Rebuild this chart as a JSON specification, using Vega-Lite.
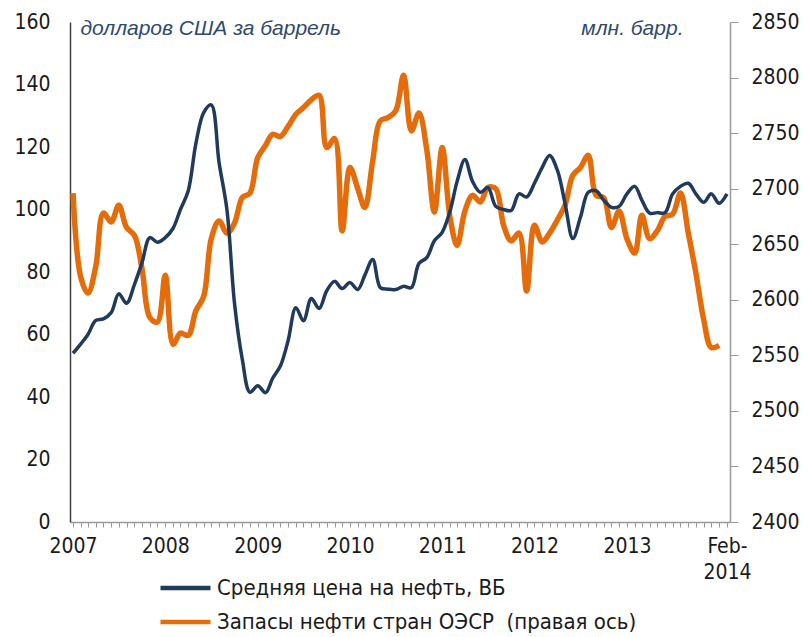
{
  "$schema": "https://vega.github.io/schema/vega-lite/v6.json",
  "width": 660,
  "height": 500,
  "autosize": {"type": "none"},
  "padding": {"left": 70, "top": 22, "right": 79, "bottom": 115},
  "config": {
    "view": {"stroke": null},
    "font": "Liberation Sans Narrow, DejaVu Sans Condensed, Arial",
    "axis": {"grid": false, "labelFontSize": 21, "labelColor": "#1a1a1a", "labelFont": "Liberation Sans Narrow, DejaVu Sans Condensed, Arial", "labelOverlap": false, "labelFlush": false, "labelBound": false}
  },
  "datasets": {
    "price": [
      {"date": "2007-01-01", "series": "Средняя цена на нефть, ВБ", "value": 54},
      {"date": "2007-02-01", "series": "Средняя цена на нефть, ВБ", "value": 57},
      {"date": "2007-03-01", "series": "Средняя цена на нефть, ВБ", "value": 60},
      {"date": "2007-04-01", "series": "Средняя цена на нефть, ВБ", "value": 64.5},
      {"date": "2007-05-01", "series": "Средняя цена на нефть, ВБ", "value": 65},
      {"date": "2007-06-01", "series": "Средняя цена на нефть, ВБ", "value": 67},
      {"date": "2007-07-01", "series": "Средняя цена на нефть, ВБ", "value": 73},
      {"date": "2007-08-01", "series": "Средняя цена на нефть, ВБ", "value": 70},
      {"date": "2007-09-01", "series": "Средняя цена на нефть, ВБ", "value": 76},
      {"date": "2007-10-01", "series": "Средняя цена на нефть, ВБ", "value": 83},
      {"date": "2007-11-01", "series": "Средняя цена на нефть, ВБ", "value": 91},
      {"date": "2007-12-01", "series": "Средняя цена на нефть, ВБ", "value": 89.5},
      {"date": "2008-01-01", "series": "Средняя цена на нефть, ВБ", "value": 91},
      {"date": "2008-02-01", "series": "Средняя цена на нефть, ВБ", "value": 94},
      {"date": "2008-03-01", "series": "Средняя цена на нефть, ВБ", "value": 100},
      {"date": "2008-04-01", "series": "Средняя цена на нефть, ВБ", "value": 106},
      {"date": "2008-05-01", "series": "Средняя цена на нефть, ВБ", "value": 121},
      {"date": "2008-06-01", "series": "Средняя цена на нефть, ВБ", "value": 131},
      {"date": "2008-07-01", "series": "Средняя цена на нефть, ВБ", "value": 133.5},
      {"date": "2008-08-01", "series": "Средняя цена на нефть, ВБ", "value": 115},
      {"date": "2008-09-01", "series": "Средняя цена на нефть, ВБ", "value": 100},
      {"date": "2008-10-01", "series": "Средняя цена на нефть, ВБ", "value": 70},
      {"date": "2008-11-01", "series": "Средняя цена на нефть, ВБ", "value": 52},
      {"date": "2008-12-01", "series": "Средняя цена на нефть, ВБ", "value": 41.5},
      {"date": "2009-01-01", "series": "Средняя цена на нефть, ВБ", "value": 43.6},
      {"date": "2009-02-01", "series": "Средняя цена на нефть, ВБ", "value": 41.4},
      {"date": "2009-03-01", "series": "Средняя цена на нефть, ВБ", "value": 46},
      {"date": "2009-04-01", "series": "Средняя цена на нефть, ВБ", "value": 50},
      {"date": "2009-05-01", "series": "Средняя цена на нефть, ВБ", "value": 58},
      {"date": "2009-06-01", "series": "Средняя цена на нефть, ВБ", "value": 68.6},
      {"date": "2009-07-01", "series": "Средняя цена на нефть, ВБ", "value": 64.4},
      {"date": "2009-08-01", "series": "Средняя цена на нефть, ВБ", "value": 71.5},
      {"date": "2009-09-01", "series": "Средняя цена на нефть, ВБ", "value": 68.3},
      {"date": "2009-10-01", "series": "Средняя цена на нефть, ВБ", "value": 74},
      {"date": "2009-11-01", "series": "Средняя цена на нефть, ВБ", "value": 77},
      {"date": "2009-12-01", "series": "Средняя цена на нефть, ВБ", "value": 74.7},
      {"date": "2010-01-01", "series": "Средняя цена на нефть, ВБ", "value": 76.6},
      {"date": "2010-02-01", "series": "Средняя цена на нефть, ВБ", "value": 74.4},
      {"date": "2010-03-01", "series": "Средняя цена на нефть, ВБ", "value": 79},
      {"date": "2010-04-01", "series": "Средняя цена на нефть, ВБ", "value": 84},
      {"date": "2010-05-01", "series": "Средняя цена на нефть, ВБ", "value": 75},
      {"date": "2010-06-01", "series": "Средняя цена на нефть, ВБ", "value": 74.5},
      {"date": "2010-07-01", "series": "Средняя цена на нефть, ВБ", "value": 74.4},
      {"date": "2010-08-01", "series": "Средняя цена на нефть, ВБ", "value": 75.4},
      {"date": "2010-09-01", "series": "Средняя цена на нефть, ВБ", "value": 75},
      {"date": "2010-10-01", "series": "Средняя цена на нефть, ВБ", "value": 82.7},
      {"date": "2010-11-01", "series": "Средняя цена на нефть, ВБ", "value": 84.6},
      {"date": "2010-12-01", "series": "Средняя цена на нефть, ВБ", "value": 90},
      {"date": "2011-01-01", "series": "Средняя цена на нефть, ВБ", "value": 92.7},
      {"date": "2011-02-01", "series": "Средняя цена на нефть, ВБ", "value": 99.5},
      {"date": "2011-03-01", "series": "Средняя цена на нефть, ВБ", "value": 109},
      {"date": "2011-04-01", "series": "Средняя цена на нефть, ВБ", "value": 116},
      {"date": "2011-05-01", "series": "Средняя цена на нефть, ВБ", "value": 109},
      {"date": "2011-06-01", "series": "Средняя цена на нефть, ВБ", "value": 105.5},
      {"date": "2011-07-01", "series": "Средняя цена на нефть, ВБ", "value": 107},
      {"date": "2011-08-01", "series": "Средняя цена на нефть, ВБ", "value": 101},
      {"date": "2011-09-01", "series": "Средняя цена на нефть, ВБ", "value": 100},
      {"date": "2011-10-01", "series": "Средняя цена на нефть, ВБ", "value": 99.7},
      {"date": "2011-11-01", "series": "Средняя цена на нефть, ВБ", "value": 105},
      {"date": "2011-12-01", "series": "Средняя цена на нефть, ВБ", "value": 104},
      {"date": "2012-01-01", "series": "Средняя цена на нефть, ВБ", "value": 108.4},
      {"date": "2012-02-01", "series": "Средняя цена на нефть, ВБ", "value": 113.5},
      {"date": "2012-03-01", "series": "Средняя цена на нефть, ВБ", "value": 117.3},
      {"date": "2012-04-01", "series": "Средняя цена на нефть, ВБ", "value": 112.5},
      {"date": "2012-05-01", "series": "Средняя цена на нефть, ВБ", "value": 102},
      {"date": "2012-06-01", "series": "Средняя цена на нефть, ВБ", "value": 90.7},
      {"date": "2012-07-01", "series": "Средняя цена на нефть, ВБ", "value": 97.5},
      {"date": "2012-08-01", "series": "Средняя цена на нефть, ВБ", "value": 105.5},
      {"date": "2012-09-01", "series": "Средняя цена на нефть, ВБ", "value": 106},
      {"date": "2012-10-01", "series": "Средняя цена на нефть, ВБ", "value": 103},
      {"date": "2012-11-01", "series": "Средняя цена на нефть, ВБ", "value": 100.7},
      {"date": "2012-12-01", "series": "Средняя цена на нефть, ВБ", "value": 101},
      {"date": "2013-01-01", "series": "Средняя цена на нефть, ВБ", "value": 105},
      {"date": "2013-02-01", "series": "Средняя цена на нефть, ВБ", "value": 107.4},
      {"date": "2013-03-01", "series": "Средняя цена на нефть, ВБ", "value": 103},
      {"date": "2013-04-01", "series": "Средняя цена на нефть, ВБ", "value": 98.8},
      {"date": "2013-05-01", "series": "Средняя цена на нефть, ВБ", "value": 99},
      {"date": "2013-06-01", "series": "Средняя цена на нефть, ВБ", "value": 99},
      {"date": "2013-07-01", "series": "Средняя цена на нефть, ВБ", "value": 105},
      {"date": "2013-08-01", "series": "Средняя цена на нефть, ВБ", "value": 107.4},
      {"date": "2013-09-01", "series": "Средняя цена на нефть, ВБ", "value": 108.4},
      {"date": "2013-10-01", "series": "Средняя цена на нефть, ВБ", "value": 105},
      {"date": "2013-11-01", "series": "Средняя цена на нефть, ВБ", "value": 102.3},
      {"date": "2013-12-01", "series": "Средняя цена на нефть, ВБ", "value": 105},
      {"date": "2014-01-01", "series": "Средняя цена на нефть, ВБ", "value": 102},
      {"date": "2014-02-01", "series": "Средняя цена на нефть, ВБ", "value": 105}
    ],
    "stocks": [
      {"date": "2007-01-01", "series": "Запасы нефти стран ОЭСР \u00a0(правая ось)", "value": 2696},
      {"date": "2007-02-01", "series": "Запасы нефти стран ОЭСР \u00a0(правая ось)", "value": 2620},
      {"date": "2007-03-01", "series": "Запасы нефти стран ОЭСР \u00a0(правая ось)", "value": 2606},
      {"date": "2007-04-01", "series": "Запасы нефти стран ОЭСР \u00a0(правая ось)", "value": 2630},
      {"date": "2007-05-01", "series": "Запасы нефти стран ОЭСР \u00a0(правая ось)", "value": 2678},
      {"date": "2007-06-01", "series": "Запасы нефти стран ОЭСР \u00a0(правая ось)", "value": 2670},
      {"date": "2007-07-01", "series": "Запасы нефти стран ОЭСР \u00a0(правая ось)", "value": 2685},
      {"date": "2007-08-01", "series": "Запасы нефти стран ОЭСР \u00a0(правая ось)", "value": 2665},
      {"date": "2007-09-01", "series": "Запасы нефти стран ОЭСР \u00a0(правая ось)", "value": 2658},
      {"date": "2007-10-01", "series": "Запасы нефти стран ОЭСР \u00a0(правая ось)", "value": 2628},
      {"date": "2007-11-01", "series": "Запасы нефти стран ОЭСР \u00a0(правая ось)", "value": 2584},
      {"date": "2007-12-01", "series": "Запасы нефти стран ОЭСР \u00a0(правая ось)", "value": 2580},
      {"date": "2008-01-01", "series": "Запасы нефти стран ОЭСР \u00a0(правая ось)", "value": 2622},
      {"date": "2008-02-01", "series": "Запасы нефти стран ОЭСР \u00a0(правая ось)", "value": 2560},
      {"date": "2008-03-01", "series": "Запасы нефти стран ОЭСР \u00a0(правая ось)", "value": 2570},
      {"date": "2008-04-01", "series": "Запасы нефти стран ОЭСР \u00a0(правая ось)", "value": 2568},
      {"date": "2008-05-01", "series": "Запасы нефти стран ОЭСР \u00a0(правая ось)", "value": 2590},
      {"date": "2008-06-01", "series": "Запасы нефти стран ОЭСР \u00a0(правая ось)", "value": 2603},
      {"date": "2008-07-01", "series": "Запасы нефти стран ОЭСР \u00a0(правая ось)", "value": 2655},
      {"date": "2008-08-01", "series": "Запасы нефти стран ОЭСР \u00a0(правая ось)", "value": 2671},
      {"date": "2008-09-01", "series": "Запасы нефти стран ОЭСР \u00a0(правая ось)", "value": 2660},
      {"date": "2008-10-01", "series": "Запасы нефти стран ОЭСР \u00a0(правая ось)", "value": 2669},
      {"date": "2008-11-01", "series": "Запасы нефти стран ОЭСР \u00a0(правая ось)", "value": 2692},
      {"date": "2008-12-01", "series": "Запасы нефти стран ОЭСР \u00a0(правая ось)", "value": 2696},
      {"date": "2009-01-01", "series": "Запасы нефти стран ОЭСР \u00a0(правая ось)", "value": 2728},
      {"date": "2009-02-01", "series": "Запасы нефти стран ОЭСР \u00a0(правая ось)", "value": 2739},
      {"date": "2009-03-01", "series": "Запасы нефти стран ОЭСР \u00a0(правая ось)", "value": 2749},
      {"date": "2009-04-01", "series": "Запасы нефти стран ОЭСР \u00a0(правая ось)", "value": 2747},
      {"date": "2009-05-01", "series": "Запасы нефти стран ОЭСР \u00a0(правая ось)", "value": 2756},
      {"date": "2009-06-01", "series": "Запасы нефти стран ОЭСР \u00a0(правая ось)", "value": 2767},
      {"date": "2009-07-01", "series": "Запасы нефти стран ОЭСР \u00a0(правая ось)", "value": 2773},
      {"date": "2009-08-01", "series": "Запасы нефти стран ОЭСР \u00a0(правая ось)", "value": 2780},
      {"date": "2009-09-01", "series": "Запасы нефти стран ОЭСР \u00a0(правая ось)", "value": 2784},
      {"date": "2009-10-01", "series": "Запасы нефти стран ОЭСР \u00a0(правая ось)", "value": 2737},
      {"date": "2009-11-01", "series": "Запасы нефти стран ОЭСР \u00a0(правая ось)", "value": 2745},
      {"date": "2009-12-01", "series": "Запасы нефти стран ОЭСР \u00a0(правая ось)", "value": 2662},
      {"date": "2010-01-01", "series": "Запасы нефти стран ОЭСР \u00a0(правая ось)", "value": 2719},
      {"date": "2010-02-01", "series": "Запасы нефти стран ОЭСР \u00a0(правая ось)", "value": 2700},
      {"date": "2010-03-01", "series": "Запасы нефти стран ОЭСР \u00a0(правая ось)", "value": 2683},
      {"date": "2010-04-01", "series": "Запасы нефти стран ОЭСР \u00a0(правая ось)", "value": 2725},
      {"date": "2010-05-01", "series": "Запасы нефти стран ОЭСР \u00a0(правая ось)", "value": 2761},
      {"date": "2010-06-01", "series": "Запасы нефти стран ОЭСР \u00a0(правая ось)", "value": 2764},
      {"date": "2010-07-01", "series": "Запасы нефти стран ОЭСР \u00a0(правая ось)", "value": 2770},
      {"date": "2010-08-01", "series": "Запасы нефти стран ОЭСР \u00a0(правая ось)", "value": 2802},
      {"date": "2010-09-01", "series": "Запасы нефти стран ОЭСР \u00a0(правая ось)", "value": 2752},
      {"date": "2010-10-01", "series": "Запасы нефти стран ОЭСР \u00a0(правая ось)", "value": 2768},
      {"date": "2010-11-01", "series": "Запасы нефти стран ОЭСР \u00a0(правая ось)", "value": 2735},
      {"date": "2010-12-01", "series": "Запасы нефти стран ОЭСР \u00a0(правая ось)", "value": 2679},
      {"date": "2011-01-01", "series": "Запасы нефти стран ОЭСР \u00a0(правая ось)", "value": 2737},
      {"date": "2011-02-01", "series": "Запасы нефти стран ОЭСР \u00a0(правая ось)", "value": 2674},
      {"date": "2011-03-01", "series": "Запасы нефти стран ОЭСР \u00a0(правая ось)", "value": 2649},
      {"date": "2011-04-01", "series": "Запасы нефти стран ОЭСР \u00a0(правая ось)", "value": 2680},
      {"date": "2011-05-01", "series": "Запасы нефти стран ОЭСР \u00a0(правая ось)", "value": 2694},
      {"date": "2011-06-01", "series": "Запасы нефти стран ОЭСР \u00a0(правая ось)", "value": 2688},
      {"date": "2011-07-01", "series": "Запасы нефти стран ОЭСР \u00a0(правая ось)", "value": 2701},
      {"date": "2011-08-01", "series": "Запасы нефти стран ОЭСР \u00a0(правая ось)", "value": 2700},
      {"date": "2011-09-01", "series": "Запасы нефти стран ОЭСР \u00a0(правая ось)", "value": 2667},
      {"date": "2011-10-01", "series": "Запасы нефти стран ОЭСР \u00a0(правая ось)", "value": 2653},
      {"date": "2011-11-01", "series": "Запасы нефти стран ОЭСР \u00a0(правая ось)", "value": 2660},
      {"date": "2011-12-01", "series": "Запасы нефти стран ОЭСР \u00a0(правая ось)", "value": 2608},
      {"date": "2012-01-01", "series": "Запасы нефти стран ОЭСР \u00a0(правая ось)", "value": 2667},
      {"date": "2012-02-01", "series": "Запасы нефти стран ОЭСР \u00a0(правая ось)", "value": 2652},
      {"date": "2012-03-01", "series": "Запасы нефти стран ОЭСР \u00a0(правая ось)", "value": 2660},
      {"date": "2012-04-01", "series": "Запасы нефти стран ОЭСР \u00a0(правая ось)", "value": 2672},
      {"date": "2012-05-01", "series": "Запасы нефти стран ОЭСР \u00a0(правая ось)", "value": 2685},
      {"date": "2012-06-01", "series": "Запасы нефти стран ОЭСР \u00a0(правая ось)", "value": 2712},
      {"date": "2012-07-01", "series": "Запасы нефти стран ОЭСР \u00a0(правая ось)", "value": 2719},
      {"date": "2012-08-01", "series": "Запасы нефти стран ОЭСР \u00a0(правая ось)", "value": 2730},
      {"date": "2012-09-01", "series": "Запасы нефти стран ОЭСР \u00a0(правая ось)", "value": 2694},
      {"date": "2012-10-01", "series": "Запасы нефти стран ОЭСР \u00a0(правая ось)", "value": 2692},
      {"date": "2012-11-01", "series": "Запасы нефти стран ОЭСР \u00a0(правая ось)", "value": 2665},
      {"date": "2012-12-01", "series": "Запасы нефти стран ОЭСР \u00a0(правая ось)", "value": 2680},
      {"date": "2013-01-01", "series": "Запасы нефти стран ОЭСР \u00a0(правая ось)", "value": 2655},
      {"date": "2013-02-01", "series": "Запасы нефти стран ОЭСР \u00a0(правая ось)", "value": 2642},
      {"date": "2013-03-01", "series": "Запасы нефти стран ОЭСР \u00a0(правая ось)", "value": 2676},
      {"date": "2013-04-01", "series": "Запасы нефти стран ОЭСР \u00a0(правая ось)", "value": 2655},
      {"date": "2013-05-01", "series": "Запасы нефти стран ОЭСР \u00a0(правая ось)", "value": 2662},
      {"date": "2013-06-01", "series": "Запасы нефти стран ОЭСР \u00a0(правая ось)", "value": 2675},
      {"date": "2013-07-01", "series": "Запасы нефти стран ОЭСР \u00a0(правая ось)", "value": 2677},
      {"date": "2013-08-01", "series": "Запасы нефти стран ОЭСР \u00a0(правая ось)", "value": 2696},
      {"date": "2013-09-01", "series": "Запасы нефти стран ОЭСР \u00a0(правая ось)", "value": 2660},
      {"date": "2013-10-01", "series": "Запасы нефти стран ОЭСР \u00a0(правая ось)", "value": 2624},
      {"date": "2013-11-01", "series": "Запасы нефти стран ОЭСР \u00a0(правая ось)", "value": 2582},
      {"date": "2013-12-01", "series": "Запасы нефти стран ОЭСР \u00a0(правая ось)", "value": 2557},
      {"date": "2014-01-01", "series": "Запасы нефти стран ОЭСР \u00a0(правая ось)", "value": 2559}
    ]
  },
  "encoding": {
    "x": {
      "field": "date",
      "type": "temporal",
      "scale": {"domain": [{"year": 2006, "month": 12, "date": 20}, {"year": 2014, "month": 2, "date": 13}]},
      "axis": {
        "title": null,
        "tickCount": {"interval": "month", "step": 1},
        "tickSize": 5,
        "tickColor": "#999999",
        "domainColor": "#999999",
        "domainWidth": 1.5,
        "labelPadding": 8,
        "labelLineHeight": 26,
        "labelExpr": "month(datum.value) == 0 && year(datum.value) < 2014 ? timeFormat(datum.value, '%Y') : (month(datum.value) == 1 && year(datum.value) == 2014 ? ['Feb-', '2014'] : '')"
      }
    }
  },
  "layer": [
    {
      "data": {"name": "stocks"},
      "mark": {"type": "line", "interpolate": "catmull-rom", "strokeWidth": 5.5},
      "encoding": {
        "y": {
          "field": "value",
          "type": "quantitative",
          "scale": {"domain": [2400, 2850], "zero": false, "nice": false},
          "axis": {
            "orient": "right",
            "values": [2400, 2450, 2500, 2550, 2600, 2650, 2700, 2750, 2800, 2850],
            "format": "d",
            "tickSize": 8,
            "tickColor": "#999999",
            "domainColor": "#999999",
            "domainWidth": 1.5,
            "labelPadding": 13,
            "title": "млн. барр.",
            "titleAngle": 0,
            "titleX": -47,
            "titleY": 6,
            "titleAlign": "right",
            "titleBaseline": "middle",
            "titleFont": "Liberation Sans, Arial",
            "titleFontStyle": "italic",
            "titleFontWeight": "normal",
            "titleFontSize": 21,
            "titleColor": "#2E4A6B"
          }
        },
        "color": {
          "field": "series",
          "type": "nominal",
          "scale": {"domain": ["Средняя цена на нефть, ВБ", "Запасы нефти стран ОЭСР \u00a0(правая ось)"], "range": ["#1F3A5C", "#E46C0A"]},
          "legend": {
            "orient": "none",
            "legendX": 88,
            "legendY": 554,
            "direction": "vertical",
            "title": null,
            "symbolType": "stroke",
            "symbolSize": 2500,
            "symbolStrokeWidth": 4.5,
            "clipHeight": 24,
            "rowPadding": 10,
            "labelFontSize": 22,
            "labelOffset": 4,
            "labelLimit": 500,
            "labelColor": "#1a1a1a",
            "labelFont": "Liberation Sans Narrow, DejaVu Sans Condensed, Arial"
          }
        }
      }
    },
    {
      "data": {"name": "price"},
      "mark": {"type": "line", "interpolate": "catmull-rom", "strokeWidth": 3.5},
      "encoding": {
        "y": {
          "field": "value",
          "type": "quantitative",
          "scale": {"domain": [0, 160], "nice": false},
          "axis": {
            "orient": "left",
            "values": [0, 20, 40, 60, 80, 100, 120, 140, 160],
            "ticks": false,
            "domainColor": "#404040",
            "domainWidth": 1.5,
            "labelPadding": 20,
            "title": "долларов США за баррель",
            "titleAngle": 0,
            "titleX": 10,
            "titleY": 6,
            "titleAlign": "left",
            "titleBaseline": "middle",
            "titleFont": "Liberation Sans, Arial",
            "titleFontStyle": "italic",
            "titleFontWeight": "normal",
            "titleFontSize": 21,
            "titleColor": "#2E4A6B"
          }
        },
        "color": {"field": "series", "type": "nominal"}
      }
    }
  ],
  "resolve": {"scale": {"y": "independent"}}
}
